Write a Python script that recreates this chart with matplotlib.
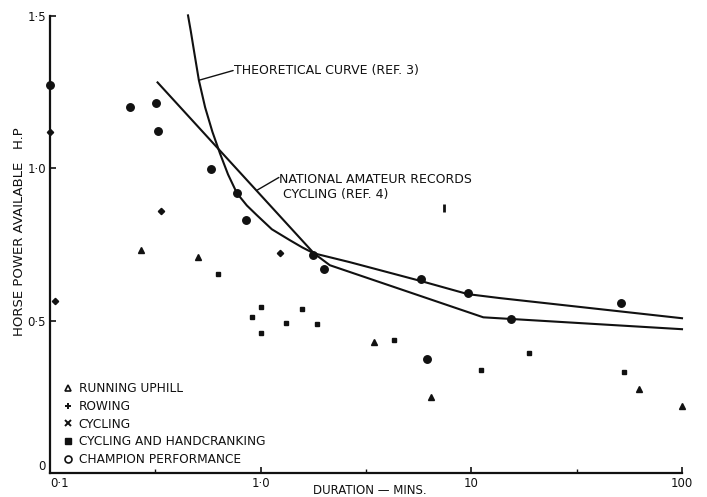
import matplotlib
matplotlib.use("Agg")
import matplotlib.pyplot as plt
from matplotlib.lines import Line2D

# ---------------- data ----------------
running_x = [0.27, 0.504, 3.45, 6.43, 62.4, 100]
running_y = [0.731, 0.708, 0.43, 0.249, 0.275, 0.22]

rowing_x = [0.1, 0.106, 0.337, 1.235]
rowing_y = [1.12, 0.564, 0.859, 0.721]

cycling_x = [0.627, 0.91, 1.0, 1.0, 1.32, 1.57, 1.85]
cycling_y = [0.652, 0.511, 0.544, 0.459, 0.492, 0.538, 0.489]

handcrank_x = [4.29, 11.1, 18.8, 53.0]
handcrank_y = [0.436, 0.338, 0.393, 0.331]

champion_x = [0.1, 0.24, 0.32, 0.326, 0.58, 0.77, 0.85, 1.77, 2.0, 5.77, 9.64, 6.15, 15.4, 51.3]
champion_y = [1.275, 1.20, 1.213, 1.121, 0.997, 0.918, 0.83, 0.715, 0.669, 0.636, 0.59, 0.374, 0.505, 0.557]

other_x = [7.4]
other_y = [0.869]

theory_x = [0.452, 0.466, 0.484, 0.509, 0.545, 0.59, 0.641, 0.70, 0.772, 0.86, 0.96,
            1.13, 1.377, 1.58, 1.79, 2.65, 5.77, 9.64, 13.7, 100]
theory_y = [1.502, 1.45, 1.38, 1.289, 1.20, 1.12, 1.049, 0.98, 0.918, 0.878, 0.846,
            0.80, 0.764, 0.74, 0.721, 0.692, 0.63, 0.587, 0.574, 0.508]

records_x = [0.324, 1.79, 2.13, 11.4, 100]
records_y = [1.282, 0.721, 0.682, 0.511, 0.472]

x_ticks = [0.1, 1.0, 10, 100]
x_tick_labels = ["0·1", "1·0", "10", "100"]
y_ticks = [0, 0.5, 1.0, 1.5]
y_tick_labels = ["0", "0·5", "1·0", "1·5"]

legend_labels = ["RUNNING UPHILL", "ROWING", "CYCLING",
                 "CYCLING AND HANDCRANKING", "CHAMPION PERFORMANCE"]

INK = "#111111"

fig = plt.figure(figsize=(7.07, 4.97), dpi=100)
ax = fig.add_axes([50/707, 1 - 473/497, (682 - 50)/707, (473 - 16)/497])

ax.set_xscale("log")
ax.set_xlim(0.1, 100)
ax.set_ylim(0, 1.5)

# curves
ax.plot(theory_x, theory_y, color=INK, lw=1.5, clip_on=False)
ax.plot(records_x, records_y, color=INK, lw=1.5, clip_on=False)

# points
ax.plot(running_x, running_y, ls="none", marker="^", ms=5, color=INK, clip_on=False)
ax.plot(rowing_x, rowing_y, ls="none", marker="D", ms=3.2, color=INK, clip_on=False)
ax.plot(cycling_x, cycling_y, ls="none", marker="s", ms=3.2, color=INK, clip_on=False)
ax.plot(handcrank_x, handcrank_y, ls="none", marker="s", ms=3.4, color=INK, clip_on=False)
ax.plot(champion_x, champion_y, ls="none", marker="o", ms=5.4, color=INK, clip_on=False)
ax.plot(other_x, other_y, ls="none", marker="|", ms=6, mew=2, color=INK, clip_on=False)

# annotations
ax.annotate("", xy=(theory_x[3], theory_y[3]), xytext=(0.74, 1.321),
            arrowprops=dict(arrowstyle="-", color=INK, lw=1.0, shrinkA=0, shrinkB=0))
ax.text(0.745, 1.321, "THEORETICAL CURVE (REF. 3)", ha="left", va="center",
        fontsize=9, color=INK)
ax.annotate("", xy=(0.96, 0.928), xytext=(1.22, 0.97),
            arrowprops=dict(arrowstyle="-", color=INK, lw=1.0, shrinkA=0, shrinkB=0))
ax.text(1.225, 0.963, "NATIONAL AMATEUR RECORDS", ha="left", va="center",
        fontsize=9, color=INK)
ax.text(1.27, 0.915, "CYCLING (REF. 4)", ha="left", va="center",
        fontsize=9, color=INK)

# axes style
for s in ["top", "right"]:
    ax.spines[s].set_visible(False)
for s in ["left", "bottom"]:
    ax.spines[s].set_linewidth(1.6)
    ax.spines[s].set_color(INK)

ax.set_xticks(x_ticks)
ax.set_xticklabels(x_tick_labels)
ax.set_xticks([0.316, 3.16, 31.6], minor=True)
ax.xaxis.set_minor_formatter(plt.NullFormatter())
ax.set_yticks(y_ticks)
ax.set_yticklabels(y_tick_labels)
ax.tick_params(axis="both", which="major", direction="in", length=4, width=1.2,
               labelsize=8.5, colors=INK, pad=3)
ax.tick_params(axis="both", which="minor", direction="in", length=3, width=1.0, colors=INK)
# keep the two corner labels apart
ax.get_xticklabels()[0].set_horizontalalignment("left")
ax.get_yticklabels()[0].set_verticalalignment("bottom")

# legend
handles = [
    Line2D([], [], ls="none", marker="^", mfc="none", mec=INK, mew=1.2, ms=5),
    Line2D([], [], ls="none", marker="+", color=INK, mew=1.4, ms=5),
    Line2D([], [], ls="none", marker="x", color=INK, mew=1.4, ms=4.5),
    Line2D([], [], ls="none", marker="s", color=INK, ms=4.5),
    Line2D([], [], ls="none", marker="o", mfc="none", mec=INK, mew=1.2, ms=5),
]
leg = ax.legend(handles, legend_labels, loc="lower left", bbox_to_anchor=(0.009, 0.0),
                frameon=False, fontsize=8.7, handlelength=0.8, handletextpad=0.5,
                labelspacing=0.38, borderaxespad=0.2)
for t in leg.get_texts():
    t.set_color(INK)

fig.text(20/707, 1 - 232/497, "HORSE POWER AVAILABLE   H.P", rotation=90,
         ha="center", va="center", fontsize=9.5, color=INK)
fig.text(370/707, 1 - 491/497, "DURATION — MINS.", ha="center", va="center",
         fontsize=8.5, color=INK)

fig.savefig("out.png", dpi=100, facecolor="white")
